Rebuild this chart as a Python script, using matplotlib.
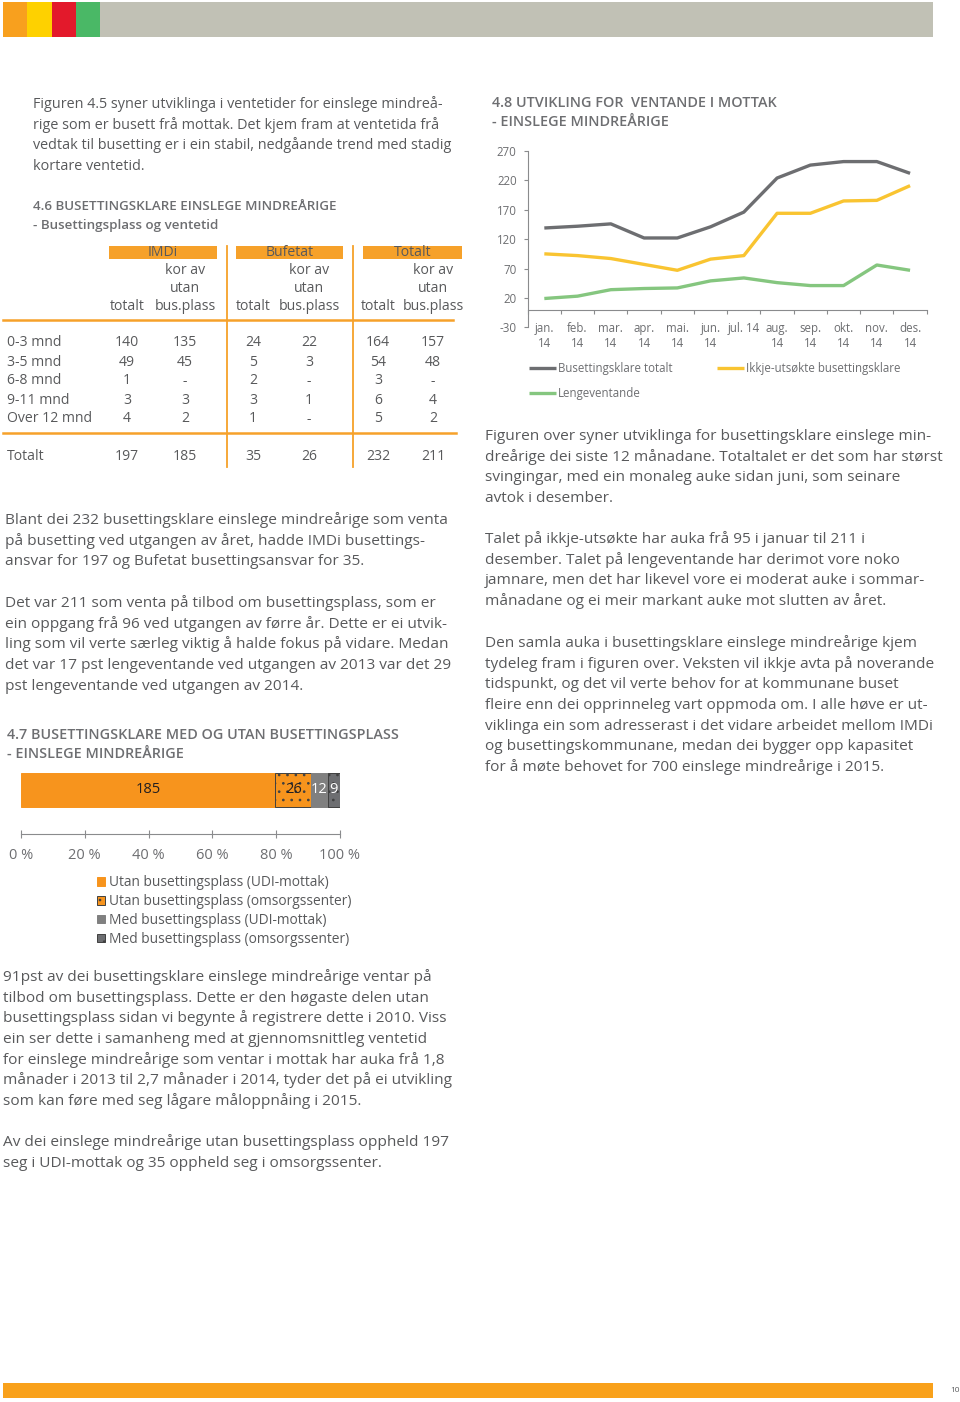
import numpy as np
import matplotlib
matplotlib.use('Agg')
import matplotlib.pyplot as plt
from matplotlib.patches import Rectangle, Patch

plt.rcParams['font.family'] = ['Open Sans', 'DejaVu Sans']
plt.rcParams['hatch.linewidth'] = 0.7
plt.rcParams['axes.unicode_minus'] = False

# --- data -------------------------------------------------------------
months = ['jan.\n14', 'feb.\n14', 'mar.\n14', 'apr.\n14', 'mai.\n14', 'jun.\n14',
          'jul. 14', 'aug.\n14', 'sep.\n14', 'okt.\n14', 'nov.\n14', 'des.\n14']
busettingsklare = [139, 142, 146, 122, 122, 141, 166, 224, 246, 252, 252, 232]
ikkje_utsokte = [95, 92, 87, 77, 67, 86, 92, 164, 164, 185, 186, 211]
lengeventande = [19, 23, 34, 36, 37, 49, 54, 46, 41, 41, 76, 67]
line_yticks = [-30, 20, 70, 120, 170, 220, 270]

table_rows = ['0-3 mnd', '3-5 mnd', '6-8 mnd', '9-11 mnd', 'Over 12 mnd']
imdi_totalt = [140, 49, 1, 3, 4]
imdi_utan = [135, 45, None, 3, 2]
bufetat_totalt = [24, 5, 2, 3, 1]
bufetat_utan = [22, 3, None, 1, None]
totalt_totalt = [164, 54, 3, 6, 5]
totalt_utan = [157, 48, None, 4, 2]

bar_values = [185, 26, 12, 9]
bar_labels = ['Utan busettingsplass (UDI-mottak)', 'Utan busettingsplass (omsorgssenter)',
              'Med busettingsplass (UDI-mottak)', 'Med busettingsplass (omsorgssenter)']
pct_ticks = [0, 0.2, 0.4, 0.6, 0.8, 1.0]

# --- page -------------------------------------------------------------
W, H = 960, 1402
TXT = '#58595b'
HEAD = '#6d6e71'
ORANGE = '#f7941d'
BODY = 11.1
SMALL = 10.4
TAB = 10.1

fig = plt.figure(figsize=(W / 100, H / 100), dpi=100)
page = fig.add_axes([0, 0, 1, 1])
page.set_xlim(0, W)
page.set_ylim(H, 0)
page.axis('off')


def px_axes(x0, y0, x1, y1):
    a = fig.add_axes([x0 / W, 1 - y1 / H, (x1 - x0) / W, (y1 - y0) / H])
    a.set_facecolor('none')
    return a


def para(x, y0, lines, lead=20.7, size=BODY, color=TXT, weight='normal'):
    for i, s in enumerate(lines):
        page.text(x, y0 + i * lead + 5, s, fontsize=size, color=color,
                  fontweight=weight, va='baseline', ha='left')


# header / footer strips
for x0, x1, c in [(3, 27, '#f8a01e'), (27, 52, '#fed100'), (52, 76, '#e3192b'),
                  (76, 100, '#4ab866'), (100, 933, '#c1c1b5')]:
    page.add_patch(Rectangle((x0, 2), x1 - x0, 35, color=c, lw=0))
page.add_patch(Rectangle((3, 1383), 930, 15, color='#f9a11b', lw=0))
page.text(955, 1390, '10', fontsize=6, color=TXT, ha='center', va='center')

# left column text
para(33, 103, ["Figuren 4.5 syner utviklinga i ventetider for einslege mindreå-",
               "rige som er busett frå mottak. Det kjem fram at ventetida frå",
               "vedtak til busetting er i ein stabil, nedgåande trend med stadig",
               "kortare ventetid."], size=SMALL)
para(33, 205, ["4.6 BUSETTINGSKLARE EINSLEGE MINDREÅRIGE",
               "- Busettingsplass og ventetid"], lead=19.5, size=9.6, color=HEAD, weight='semibold')
para(5, 519, ["Blant dei 232 busettingsklare einslege mindreårige som venta",
              "på busetting ved utgangen av året, hadde IMDi busettings-",
              "ansvar for 197 og Bufetat busettingsansvar for 35."])
para(5, 602, ["Det var 211 som venta på tilbod om busettingsplass, som er",
              "ein oppgang frå 96 ved utgangen av førre år. Dette er ei utvik-",
              "ling som vil verte særleg viktig å halde fokus på vidare. Medan",
              "det var 17 pst lengeventande ved utgangen av 2013 var det 29",
              "pst lengeventande ved utgangen av 2014."])
para(7, 734, ["4.7 BUSETTINGSKLARE MED OG UTAN BUSETTINGSPLASS",
              "- EINSLEGE MINDREÅRIGE"], lead=19, size=10.4, color=HEAD, weight='semibold')
para(3, 976, ["91pst av dei busettingsklare einslege mindreårige ventar på",
              "tilbod om busettingsplass. Dette er den høgaste delen utan",
              "busettingsplass sidan vi begynte å registrere dette i 2010. Viss",
              "ein ser dette i samanheng med at gjennomsnittleg ventetid",
              "for einslege mindreårige som ventar i mottak har auka frå 1,8",
              "månader i 2013 til 2,7 månader i 2014, tyder det på ei utvikling",
              "som kan føre med seg lågare måloppnåing i 2015."])
para(3, 1141, ["Av dei einslege mindreårige utan busettingsplass oppheld 197",
               "seg i UDI-mottak og 35 oppheld seg i omsorgssenter."])

# right column text
para(492, 102, ["4.8 UTVIKLING FOR  VENTANDE I MOTTAK",
                "- EINSLEGE MINDREÅRIGE"], lead=19, size=10.4, color=HEAD, weight='semibold')
para(485, 435, ["Figuren over syner utviklinga for busettingsklare einslege min-",
                "dreårige dei siste 12 månadane. Totaltalet er det som har størst",
                "svingingar, med ein monaleg auke sidan juni, som seinare",
                "avtok i desember."])
para(485, 538, ["Talet på ikkje-utsøkte har auka frå 95 i januar til 211 i",
                "desember. Talet på lengeventande har derimot vore noko",
                "jamnare, men det har likevel vore ei moderat auke i sommar-",
                "månadane og ei meir markant auke mot slutten av året."])
para(485, 642, ["Den samla auka i busettingsklare einslege mindreårige kjem",
                "tydeleg fram i figuren over. Veksten vil ikkje avta på noverande",
                "tidspunkt, og det vil verte behov for at kommunane buset",
                "fleire enn dei opprinneleg vart oppmoda om. I alle høve er ut-",
                "viklinga ein som adresserast i det vidare arbeidet mellom IMDi",
                "og busettingskommunane, medan dei bygger opp kapasitet",
                "for å møte behovet for 700 einslege mindreårige i 2015."])

# --- table 4.6 ---------------------------------------------------------
TORANGE = '#f6a12a'
col_x = [127, 185, 253, 309, 378, 433]
groups = [('IMDi', 109, 217), ('Bufetat', 236, 343), ('Totalt', 363, 462)]
for name, x0, x1 in groups:
    page.add_patch(Rectangle((x0, 246), x1 - x0, 12.5, color=TORANGE, lw=0))
    page.text((x0 + x1) / 2, 252.5, name, fontsize=TAB, color=TXT, ha='center', va='center')
for g in range(3):
    xt, xu = col_x[2 * g], col_x[2 * g + 1]
    page.text(xu, 270, 'kor av', fontsize=TAB, color=TXT, ha='center', va='center')
    page.text(xu, 288, 'utan', fontsize=TAB, color=TXT, ha='center', va='center')
    page.text(xt, 306, 'totalt', fontsize=TAB, color=TXT, ha='center', va='center')
    page.text(xu, 306, 'bus.plass', fontsize=TAB, color=TXT, ha='center', va='center')
page.plot([3, 453], [320, 320], color=TORANGE, lw=1.8)
page.plot([3, 456], [433, 433], color=TORANGE, lw=1.8)
for xv in [227, 353]:
    page.plot([xv, xv], [246, 467], color=TORANGE, lw=1.3)

columns = [imdi_totalt, imdi_utan, bufetat_totalt, bufetat_utan, totalt_totalt, totalt_utan]
row_y = [343, 362, 381, 400, 419]
for i, lab in enumerate(table_rows):
    page.text(7, row_y[i], lab, fontsize=TAB, color=TXT, ha='left', va='center')
    for cx, col in zip(col_x, columns):
        v = col[i]
        page.text(cx, row_y[i], '-' if v is None else str(v), fontsize=TAB,
                  color=TXT, ha='center', va='center')
page.text(7, 456, 'Totalt', fontsize=TAB, color=TXT, ha='left', va='center')
for cx, col in zip(col_x, columns):
    page.text(cx, 456, str(sum(v for v in col if v is not None)), fontsize=TAB,
              color=TXT, ha='center', va='center')

# --- line chart 4.8 ----------------------------------------------------
GREY_L, YEL_L, GRN_L = '#6d6e71', '#f9c431', '#85c67f'
AX = '#8a8b8d'
ax = px_axes(527.7, 151, 926.7, 327.3)
x = np.arange(1, len(months) + 1)
l1, = ax.plot(x, busettingsklare, color=GREY_L, lw=2.4, solid_capstyle='butt')
l2, = ax.plot(x, ikkje_utsokte, color=YEL_L, lw=2.4, solid_capstyle='butt')
l3, = ax.plot(x, lengeventande, color=GRN_L, lw=2.4, solid_capstyle='butt')
ax.set_xlim(0.5, len(months) + 0.5)
ax.set_ylim(-30, 270)
ax.set_yticks(line_yticks)
ax.spines['top'].set_visible(False)
ax.spines['right'].set_visible(False)
ax.spines['bottom'].set_position(('data', 0))
for s in ['left', 'bottom']:
    ax.spines[s].set_color(AX)
    ax.spines[s].set_linewidth(0.8)
ax.set_xticks(np.arange(0.5, len(months) + 0.6, 1))
ax.set_xticklabels([])
ax.set_xticks(x, minor=True)
ax.set_xticklabels(months, minor=True)
ax.tick_params(axis='x', which='major', direction='out', length=3, color=AX, width=0.8)
ax.tick_params(axis='x', which='minor', length=0, pad=9, labelsize=8.3, labelcolor=HEAD)
ax.tick_params(axis='y', direction='out', length=3, color=AX, width=0.8,
               labelsize=8.3, labelcolor=HEAD, pad=5)
for t in ax.get_xticklabels(minor=True):
    t.set_linespacing(1.22)
fig.legend([l1, l3, l2], ['Busettingsklare totalt', 'Lengeventande', 'Ikkje-utsøkte busettingsklare'],
           ncol=2, loc='upper left', bbox_to_anchor=(529 / W, 1 - 362 / H), frameon=False,
           fontsize=8.3, labelcolor=HEAD, handlelength=2.3, handletextpad=0.2,
           columnspacing=3.9, labelspacing=1.02, borderpad=0, borderaxespad=0)

# --- bar chart 4.7 -----------------------------------------------------
bar_colors = [ORANGE, ORANGE, '#808080', '#6d6e71']
bar_hatch = [None, '..', None, '..']
bar_edge = [ORANGE, '#404040', '#808080', '#404040']
label_colors = ['#231f20', '#231f20', 'white', 'white']
total = sum(bar_values)
bx = px_axes(21, 765, 340, 834)
left = 0.0
handles = []
for v, c, h, e, tc, lab in zip(bar_values, bar_colors, bar_hatch, bar_edge, label_colors, bar_labels):
    w = v / total
    bx.barh(0, w, left=left, height=1, color=c, hatch=h, edgecolor=e, linewidth=0.7)
    bx.text(left + w / 2, 0, str(v), fontsize=10.5, color=tc, ha='center', va='center')
    handles.append(Patch(facecolor=c, hatch=h, edgecolor=e, linewidth=0.7, label=lab))
    left += w
bx.set_xlim(0, 1)
bx.set_ylim(-1.294, 0.735)
bx.set_yticks([])
for s in ['top', 'right', 'left']:
    bx.spines[s].set_visible(False)
bx.spines['bottom'].set_color(AX)
bx.spines['bottom'].set_linewidth(0.8)
bx.set_xticks(pct_ticks)
bx.set_xticklabels([f'{int(round(p * 100))} %' for p in pct_ticks])
bx.tick_params(axis='x', direction='inout', length=6, color=AX, width=0.8,
               labelsize=10.5, labelcolor=HEAD, pad=7)
fig.legend(handles=handles, loc='upper left', bbox_to_anchor=(97 / W, 1 - 875 / H),
           frameon=False, fontsize=9.9, labelcolor=TXT, handlelength=0.6, handleheight=0.6,
           handletextpad=0.25, labelspacing=0.29, borderpad=0, borderaxespad=0)

fig.savefig('out.png', dpi=100)
